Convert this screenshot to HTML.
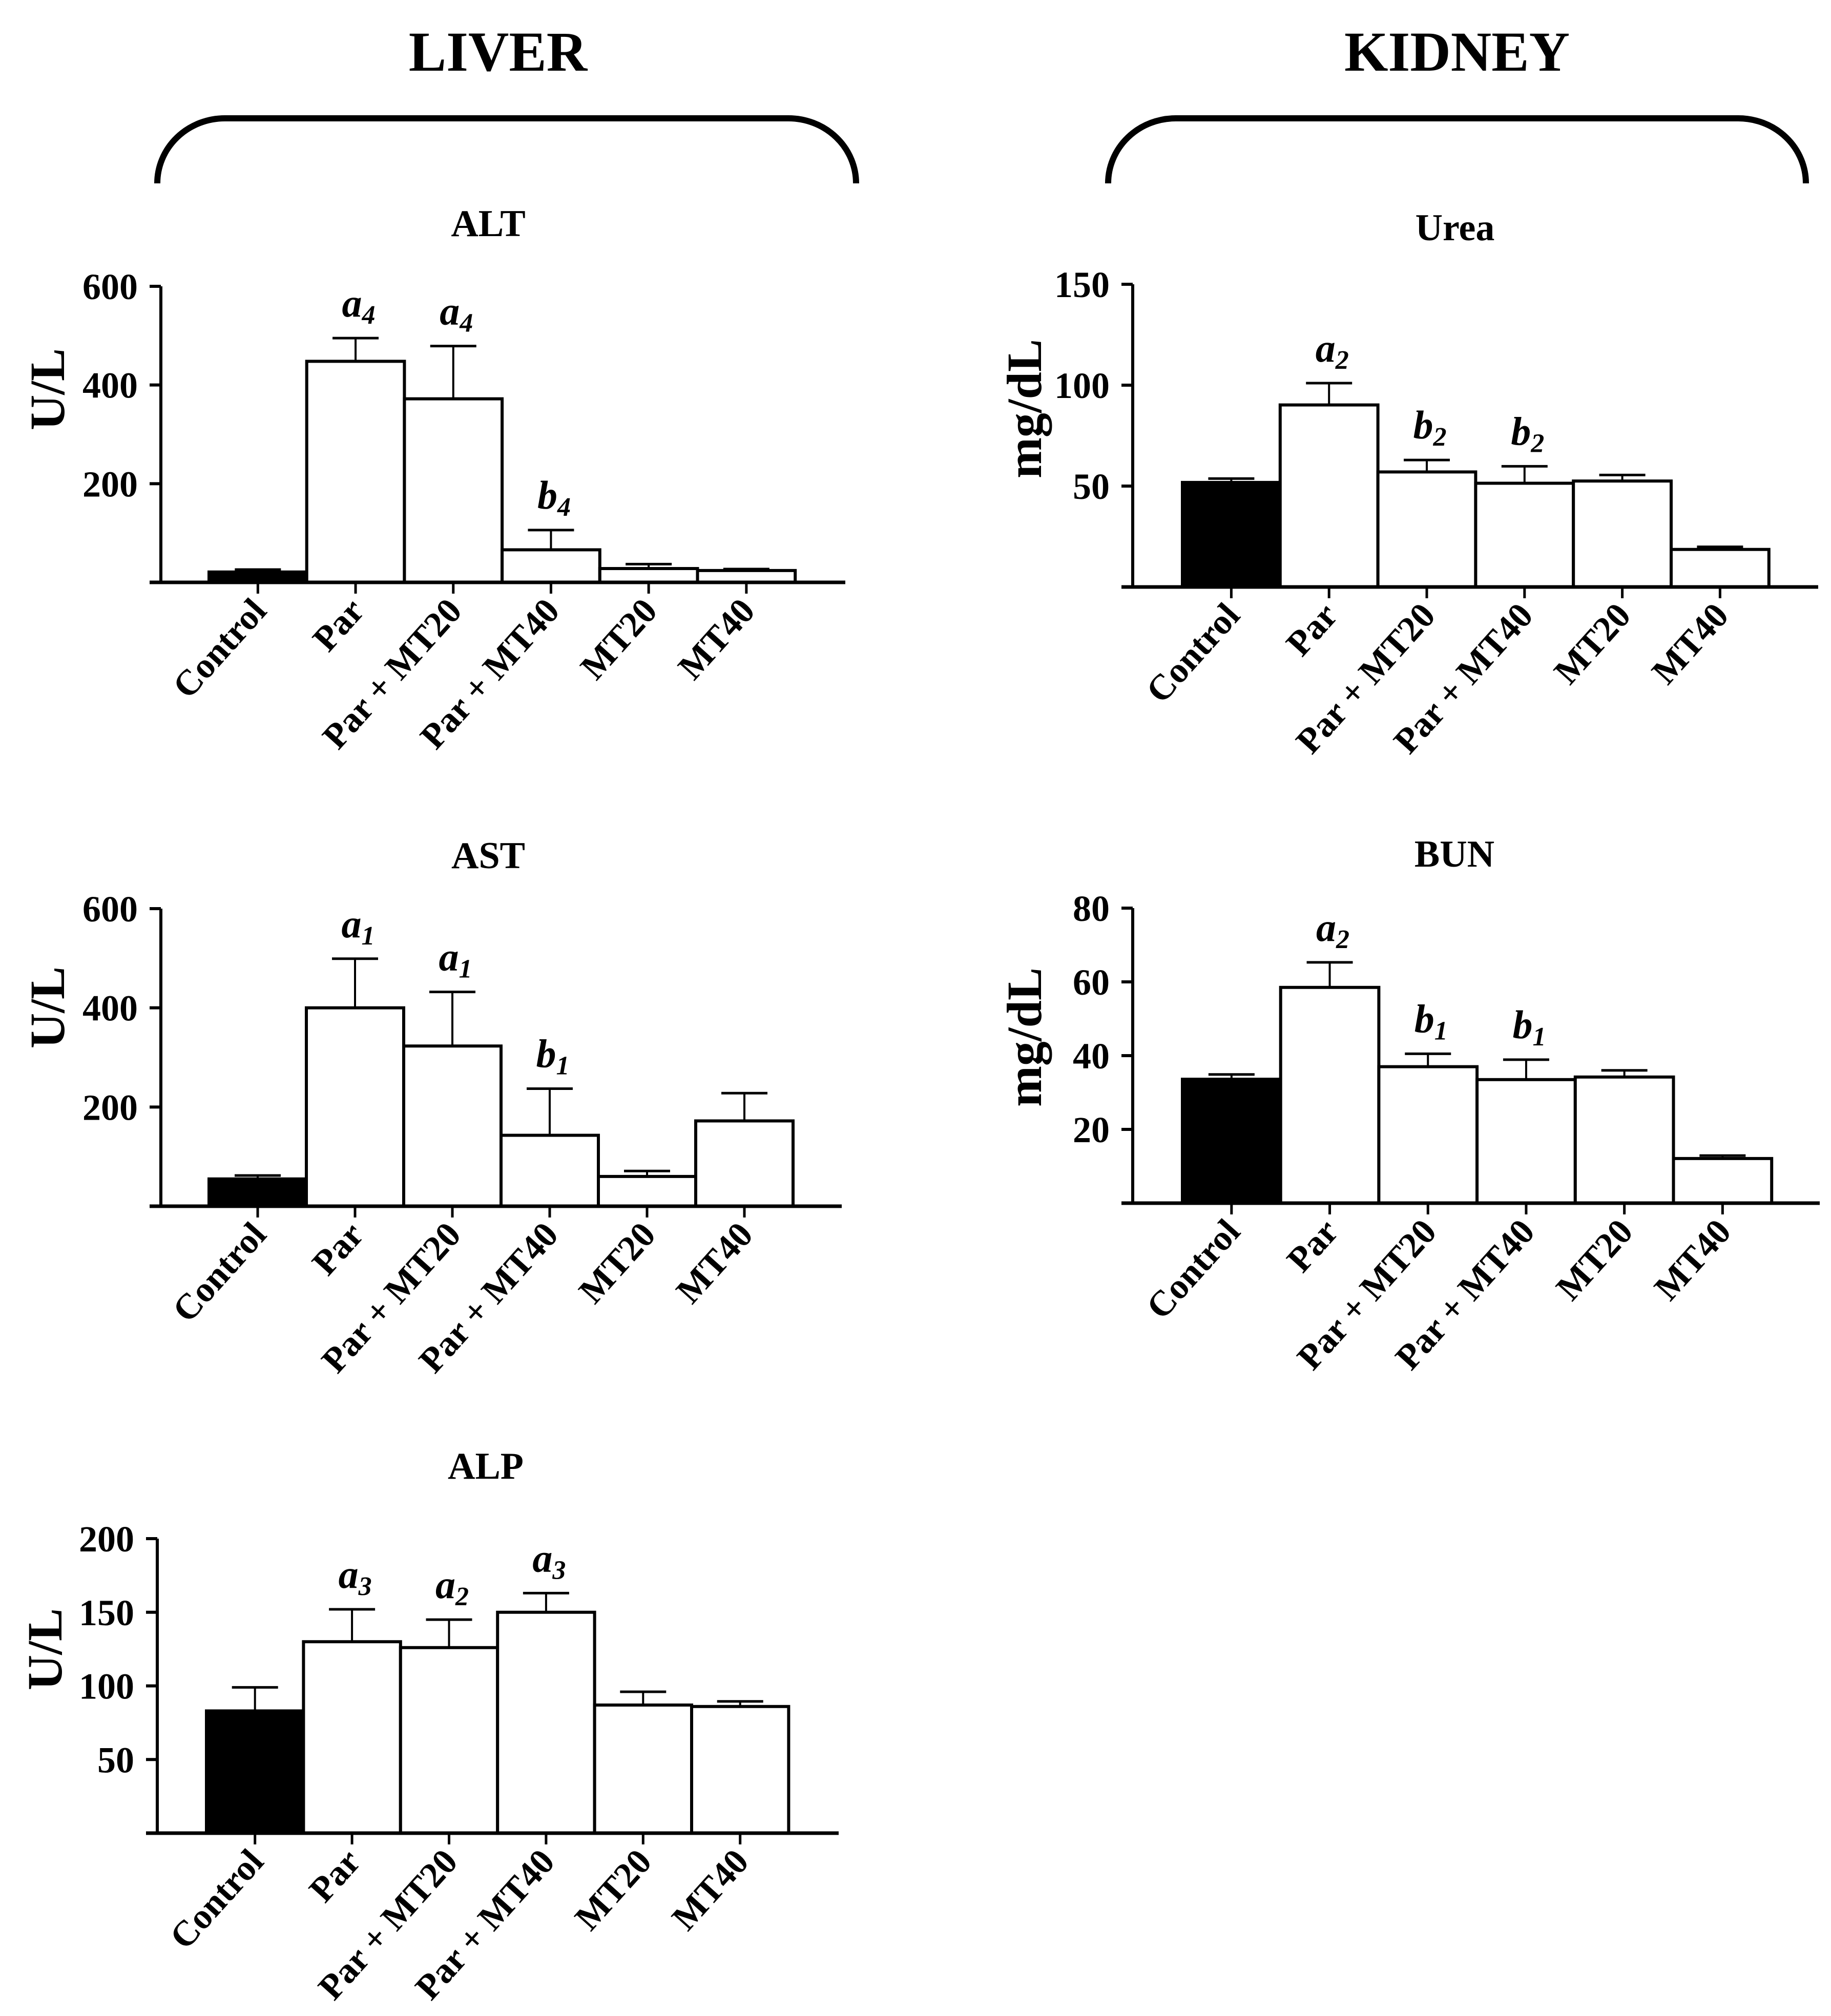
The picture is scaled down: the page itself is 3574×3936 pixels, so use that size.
<!DOCTYPE html>
<html>
<head>
<meta charset="utf-8">
<style>
html,body{margin:0;padding:0;background:#fff;}
svg{display:block;}
text{font-family:"Liberation Serif","DejaVu Serif",serif;font-weight:bold;fill:#000;}
</style>
</head>
<body>
<svg id="fig" width="3574" height="3936" viewBox="0 0 3574 3936" xmlns="http://www.w3.org/2000/svg">
  <rect x="0" y="0" width="3574" height="3936" fill="#fff"/>
  <text x="972" y="138" font-size="110" text-anchor="middle">LIVER</text>
  <text x="2844" y="138" font-size="110" text-anchor="middle">KIDNEY</text>
  <path d="M307,358 A132,127 0 0 1 439,231 L1539,231 A132,127 0 0 1 1671,358" fill="none" stroke="#000" stroke-width="12"/>
  <path d="M2163,358 A132,127 0 0 1 2295,231 L3393,231 A132,127 0 0 1 3525,358" fill="none" stroke="#000" stroke-width="12"/>
</svg>
<script>
const categories = ["Control", "Par", "Par + MT20", "Par + MT40", "MT20", "MT40"];

const altValues = [21, 448, 372, 66, 28, 24];
const altErrors = [5, 47, 107, 40, 9, 3];
const altSig = ["", "a|4", "a|4", "b|4", "", ""];
const altTicks = [200, 400, 600];

const astValues = [55, 400, 323, 143, 60, 172];
const astErrors = [7, 99, 109, 94, 11, 56];
const astSig = ["", "a|1", "a|1", "b|1", "", ""];
const astTicks = [200, 400, 600];

const alpValues = [83, 130, 126, 150, 87, 86];
const alpErrors = [16, 22, 19, 13, 9, 3.5];
const alpSig = ["", "a|3", "a|2", "a|3", "", ""];
const alpTicks = [50, 100, 150, 200];

const ureaValues = [51.8, 90.2, 57, 51.4, 52.5, 18.6];
const ureaErrors = [1.9, 10.8, 5.9, 8.4, 3, 1.3];
const ureaSig = ["", "a|2", "b|2", "b|2", "", ""];
const ureaTicks = [50, 100, 150];

const bunValues = [33.6, 58.5, 37, 33.5, 34.2, 12.1];
const bunErrors = [1.3, 6.8, 3.5, 5.4, 1.8, 0.8];
const bunSig = ["", "a|2", "b|1", "b|1", "", ""];
const bunTicks = [20, 40, 60, 80];

const NS = "http://www.w3.org/2000/svg";
const svg = document.getElementById("fig");

function mk(tag, attrs, parent) {
  const e = document.createElementNS(NS, tag);
  for (const k in attrs) e.setAttribute(k, attrs[k]);
  (parent || svg).appendChild(e);
  return e;
}

function panel(cfg, values, errors, sig, ticks) {
  const g = mk("g", {});
  
  
  const yScale = v => cfg.y0 - (v / cfg.max) * (cfg.y0 - cfg.yTop);
  const xScale = i => cfg.bar0 + i * cfg.bw;

  const t = mk("text", {x: cfg.tx, y: cfg.ty, "font-size": 74, "text-anchor": "middle"}, g);
  t.textContent = cfg.title;
  
  

  const yl = mk("text", {x: 0, y: 0, "font-size": 96, "text-anchor": "middle",
    transform: "translate(" + cfg.ylx + "," + cfg.yly + ") rotate(-90)"}, g);
  yl.textContent = cfg.ylabel;
  
  

  // bars
  for (let i = 0; i < values.length; i++) {
    const x = xScale(i), top = yScale(values[i]);
    const cx = x + cfg.bw / 2;
    const eTop = yScale(values[i] + errors[i]);
    const el = mk("line", {x1: cx, y1: top, x2: cx, y2: eTop, stroke: "#000", "stroke-width": 4}, g);
    
    
    const cap = mk("line", {x1: cx - 45, y1: eTop, x2: cx + 45, y2: eTop, stroke: "#000", "stroke-width": 5}, g);
    
    
    const r = mk("rect", {x: x, y: top, width: cfg.bw, height: cfg.y0 - top,
      fill: i === 0 ? "#000" : "#fff", stroke: "#000", "stroke-width": 6}, g);
    
    
    if (sig[i]) {
      const parts = sig[i].split("|");
      const st = mk("text", {x: cx + 6, y: eTop - 42, "font-size": 78, "text-anchor": "middle", "font-style": "italic"}, g);
      
      
      const a = mk("tspan", {}, st); a.textContent = parts[0];
      const s = mk("tspan", {"font-size": 52, dy: 14}, st); s.textContent = parts[1];
    }
  }

  // axes
  const ya = mk("line", {x1: cfg.ax, y1: cfg.yTop, x2: cfg.ax, y2: cfg.y0 + 3, stroke: "#000", "stroke-width": 6}, g);
  
  
  const xa = mk("line", {x1: cfg.ax - 22, y1: cfg.y0, x2: cfg.xEnd, y2: cfg.y0, stroke: "#000", "stroke-width": 7}, g);
  
  

  for (const v of ticks) {
    const y = yScale(v);
    const tk = mk("line", {x1: cfg.ax - 22, y1: y, x2: cfg.ax, y2: y, stroke: "#000", "stroke-width": 6}, g);
    
    
    const tl = mk("text", {x: cfg.ax - 45, y: y + 25, "font-size": 72, "text-anchor": "end"}, g);
    tl.textContent = v;
    
    
  }

  for (let i = 0; i < categories.length; i++) {
    const cx = xScale(i) + cfg.bw / 2;
    const tk = mk("line", {x1: cx, y1: cfg.y0, x2: cx, y2: cfg.y0 + 22, stroke: "#000", "stroke-width": 5}, g);
    
    
    const lx = cx + 20, ly = cfg.y0 + 58;
    const cl = mk("text", {x: 0, y: 0, "font-size": 70, "text-anchor": "end",
      transform: "translate(" + lx + "," + ly + ") rotate(-48)"}, g);
    cl.textContent = categories[i];
    
    
  }
}

panel({id: "alt", title: "ALT", tx: 953, ty: 461, ylabel: "U/L", ylx: 125, yly: 760,
  ax: 314, y0: 1137, yTop: 559, max: 600, xEnd: 1650, bar0: 408, bw: 190.7},
  altValues, altErrors, altSig, altTicks);
panel({id: "ast", title: "AST", tx: 953, ty: 1695, ylabel: "U/L", ylx: 125, yly: 1967,
  ax: 314, y0: 2355, yTop: 1774, max: 600, xEnd: 1643, bar0: 408, bw: 190},
  astValues, astErrors, astSig, astTicks);
panel({id: "alp", title: "ALP", tx: 948, ty: 2887, ylabel: "U/L", ylx: 120, yly: 3220,
  ax: 307, y0: 3579, yTop: 3004, max: 200, xEnd: 1637, bar0: 403, bw: 189.4},
  alpValues, alpErrors, alpSig, alpTicks);
panel({id: "urea", title: "Urea", tx: 2840, ty: 469, ylabel: "mg/dL", ylx: 2032, yly: 798,
  ax: 2211, y0: 1146, yTop: 555, max: 150, xEnd: 3549, bar0: 2308, bw: 190.8},
  ureaValues, ureaErrors, ureaSig, ureaTicks);
panel({id: "bun", title: "BUN", tx: 2839, ty: 1692, ylabel: "mg/dL", ylx: 2032, yly: 2025,
  ax: 2211, y0: 2349, yTop: 1773, max: 80, xEnd: 3552, bar0: 2308, bw: 191.7},
  bunValues, bunErrors, bunSig, bunTicks);
</script>
</body>
</html>
